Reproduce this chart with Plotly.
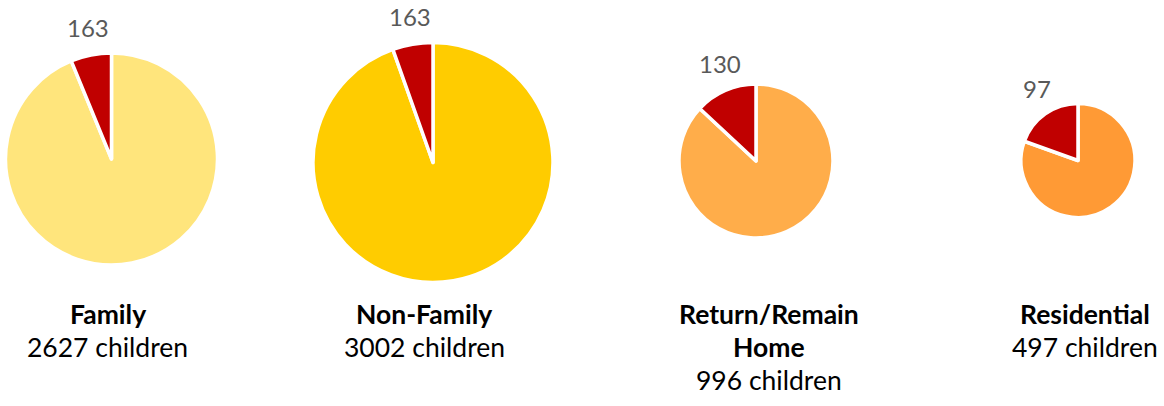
import math
import plotly.graph_objects as go

categories = ["Family", "Non-Family", "Return/Remain<br>Home", "Residential"]
totals = [2627, 3002, 996, 497]
highlighted = [163, 163, 130, 97]
pie_colors = ["#FFE57C", "#FFCC00", "#FFAD4A", "#FF9A35"]
red = "#C00000"

W, H = 1164, 406
# pie layout: center x, center y (px from top), radius (px)
centers = [(111.5, 159, 106), (433, 162.5, 120), (756, 161, 77), (1078, 160.5, 57)]
label_x = [107.5, 424, 769, 1085]
FONT = "Lato, Carlito, Calibri, sans-serif"

fig = go.Figure()
annots = []
for i in range(4):
    cx, cy, r = centers[i]
    rest = totals[i] - highlighted[i]
    fig.add_trace(go.Pie(
        values=[rest, highlighted[i]],
        labels=["rest", "highlight"],
        marker=dict(colors=[pie_colors[i], red], line=dict(color="white", width=3.5)),
        sort=False,
        direction="clockwise",
        rotation=0,
        textinfo="none",
        hoverinfo="none",
        showlegend=False,
        domain=dict(x=[(cx - r) / W, (cx + r) / W], y=[(H - cy - r) / H, (H - cy + r) / H]),
    ))
    # value label placed outside the end of the highlighted slice, along its bisector
    theta = math.pi * highlighted[i] / totals[i]
    d = r + 14
    lx = cx - d * math.sin(theta)
    ly = cy - d * math.cos(theta) - 14
    annots.append(dict(
        x=lx / W, y=(H - ly) / H, xref="paper", yref="paper",
        text=str(highlighted[i]), showarrow=False, xanchor="center", yanchor="middle",
        font=dict(family=FONT, size=24, color="#595959"),
    ))

for i, cat in enumerate(categories):
    lines = [f"<b>{part}</b>" for part in cat.split("<br>")] + [f"{totals[i]} children"]
    for j, line in enumerate(lines):
        y_px = 314 + 33 * j
        annots.append(dict(
            x=label_x[i] / W, y=(H - y_px) / H, xref="paper", yref="paper",
            text=line, showarrow=False, xanchor="center", yanchor="middle",
            font=dict(family=FONT, size=26.5, color="#000000"),
        ))

fig.update_layout(
    width=W, height=H,
    margin=dict(l=0, r=0, t=0, b=0),
    paper_bgcolor="white", plot_bgcolor="white",
    annotations=annots,
)
fig.write_html("out.html", config={"displayModeBar": False},
               post_script="document.body.style.margin='0';")
